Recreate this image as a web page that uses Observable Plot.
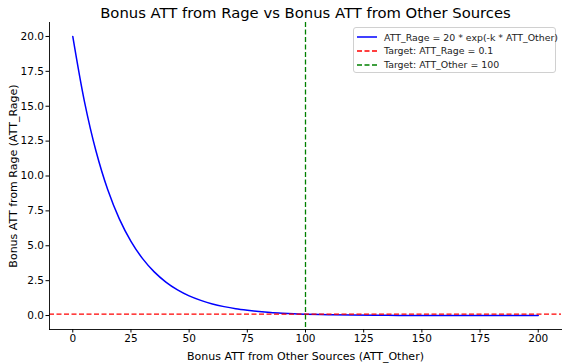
<!DOCTYPE html>
<html>
<head>
<meta charset="utf-8">
<script src="https://cdn.jsdelivr.net/npm/d3@7"></script>
<script src="https://cdn.jsdelivr.net/npm/@observablehq/plot@0.6"></script>
<style>
  body { margin: 0; background: #fff; font-family: "DejaVu Sans", sans-serif; }
  #wrap { position: relative; width: 567px; height: 364px; }
  #legend { position: absolute; left: 353px; top: 27px; width: 203px; height: 46px;
    border: 1px solid #d0d0d0; border-radius: 3px; background: rgba(255,255,255,0.85);
    font: 9.4px "DejaVu Sans", sans-serif; color: #222; box-sizing: border-box; }
  .item { position: absolute; left: 0; height: 14px; display: flex; align-items: center; white-space: nowrap; }
  .item svg { margin-left: 3px; margin-right: 7px; flex: none; }
</style>
</head>
<body>
<div id="wrap"></div>
<script>
// Data
const attOther = [0,5,10,15,20,25,30,35,40,45,50,55,60,65,70,75,80,85,90,95,100,110,120,130,140,150,160,170,180,190,200];
const attRage  = [20,15.35,11.77,9.03,6.93,5.32,4.08,3.13,2.40,1.84,1.41,1.09,0.83,0.64,0.49,0.38,0.29,0.22,0.17,0.13,0.10,0.06,0.035,0.02,0.012,0.007,0.004,0.0025,0.0015,0.0009,0.0005];
const targetRage = 0.1;
const targetOther = 100;
const xTicks = [0,25,50,75,100,125,150,175,200];
const yTicks = [0,2.5,5,7.5,10,12.5,15,17.5,20];
const title = "Bonus ATT from Rage vs Bonus ATT from Other Sources";
const xLabel = "Bonus ATT from Other Sources (ATT_Other)";
const yLabel = "Bonus ATT from Rage (ATT_Rage)";
const legendLabels = ["ATT_Rage = 20 * exp(-k * ATT_Other)", "Target: ATT_Rage = 0.1", "Target: ATT_Other = 100"];
const legendColors = ["#0000ff", "#ff0000", "#008000"];

const data = attOther.map((x, i) => ({x, y: attRage[i]}));

const chart = Plot.plot({
  width: 567,
  height: 364,
  marginLeft: 49,
  marginRight: 6,
  marginTop: 22,
  marginBottom: 35,
  style: {fontFamily: "DejaVu Sans, sans-serif", fontSize: "10.5px", color: "#000", background: "#fff"},
  x: {domain: [-10, 210]},
  y: {domain: [-1, 21]},
  marks: [
    Plot.line(data, {x: "x", y: "y", stroke: "#0000ff", strokeWidth: 1.5, curve: "catmull-rom"}),
    Plot.ruleY([targetRage], {stroke: "#ff0000", strokeWidth: 1.3, strokeDasharray: "5,2.5"}),
    Plot.ruleX([targetOther], {stroke: "#008000", strokeWidth: 1.3, strokeDasharray: "5,2.5"}),
    Plot.axisX({ticks: xTicks, tickFormat: d => String(d), tickSize: 3.5, tickPadding: 2, label: null, fontSize: 10.5, stroke: "#000"}),
    Plot.axisY({ticks: yTicks, tickFormat: d => d.toFixed(1), tickSize: 3.5, tickPadding: 2, label: null, fontSize: 10.5, stroke: "#000"}),
    Plot.frame({anchor: "left", stroke: "#000", strokeWidth: 0.9}),
    Plot.frame({anchor: "bottom", stroke: "#000", strokeWidth: 0.9}),
    Plot.text([title], {frameAnchor: "top", dy: -5, text: d => d, fontSize: 14.8, textAnchor: "middle", lineAnchor: "bottom", fill: "#000"}),
    Plot.text([xLabel], {frameAnchor: "bottom", dy: 30, text: d => d, fontSize: 11, textAnchor: "middle", lineAnchor: "bottom", fill: "#000"}),
    Plot.text([yLabel], {frameAnchor: "left", dx: -36, rotate: -90, text: d => d, fontSize: 11, textAnchor: "middle", lineAnchor: "middle", fill: "#000"})
  ]
});

const wrap = document.getElementById("wrap");
wrap.appendChild(chart);

const legend = document.createElement("div");
legend.id = "legend";
legendLabels.forEach((lab, i) => {
  const it = document.createElement("div");
  it.className = "item";
  it.style.top = (2 + i * 13.8) + "px";
  const dash = i === 0 ? "" : "stroke-dasharray='5,2.5'";
  it.innerHTML = `<svg width="20" height="6"><line x1="0" x2="20" y1="3" y2="3" stroke="${legendColors[i]}" stroke-width="1.5" ${dash}/></svg><span>${lab}</span>`;
  legend.appendChild(it);
});
wrap.appendChild(legend);
</script>
</body>
</html>
